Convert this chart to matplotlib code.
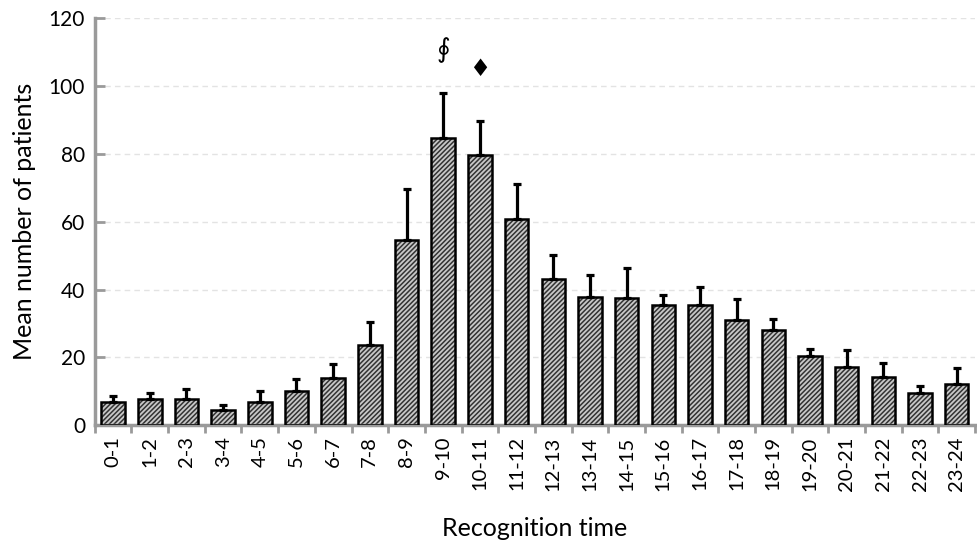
import numpy as np
import matplotlib.pyplot as plt

plt.rcParams['font.family'] = ['Lato', 'DejaVu Sans']
plt.rcParams['hatch.linewidth'] = 1.1

hours = ['0-1', '1-2', '2-3', '3-4', '4-5', '5-6', '6-7', '7-8', '8-9', '9-10',
         '10-11', '11-12', '12-13', '13-14', '14-15', '15-16', '16-17', '17-18',
         '18-19', '19-20', '20-21', '21-22', '22-23', '23-24']
means = [6.9, 7.6, 7.6, 4.4, 6.9, 10.1, 13.8, 23.6, 54.6, 84.8, 79.7, 60.7,
         43.2, 37.7, 37.4, 35.6, 35.5, 31.1, 28.1, 20.4, 17.2, 14.3, 9.5, 12.2]
upper = [8.7, 9.5, 10.6, 5.9, 10.1, 13.7, 18.0, 30.5, 69.8, 98.1, 89.6, 71.2,
         50.3, 44.3, 46.5, 38.5, 40.9, 37.2, 31.3, 22.5, 22.2, 18.4, 11.6, 16.9]
sd = np.array(upper) - np.array(means)

# significance marks
marks = ['\u222E', '\u2666']
mark_pos = [9, 10]
mark_y = [110.6, 105]

x = np.arange(len(hours))
axis_grey = '#9a9a9a'

fig = plt.figure(figsize=(9.77, 5.41), dpi=100)
ax = fig.add_axes([0.097, 0.214, 0.901, 0.752])

ax.bar(x, means, width=0.64, color='#c8c8c8', edgecolor='#333333', hatch='///////',
       linewidth=0, zorder=2)
ax.bar(x, means, width=0.64, fill=False, edgecolor='black', linewidth=1.8, zorder=3)
ax.errorbar(x, means, yerr=[np.zeros(len(sd)), sd], fmt='none', ecolor='black',
            elinewidth=2.3, capsize=3.2, capthick=2.3, zorder=4)

ax.text(mark_pos[0], mark_y[0], marks[0], ha='center', va='center', fontsize=19,
        family=['DejaVu Sans', 'Noto Sans CJK JP'])
ax.text(mark_pos[1], mark_y[1], marks[1], ha='center', va='center', fontsize=17,
        family=['DejaVu Sans'])

ax.set_xlim(-0.5, len(hours) - 0.5)
ax.set_ylim(0, 120)
ax.set_yticks(np.arange(0, 121, 20))
ax.yaxis.grid(True, color='#e3e3e3', linestyle=(0, (4, 3)), linewidth=1)
ax.set_axisbelow(True)

ax.set_xticks(x)
ax.set_xticklabels(hours, rotation=90, fontsize=14.5)
ax.tick_params(axis='x', length=0, pad=8)
ax.set_xticks(np.arange(-0.5, len(hours), 1), minor=True)
ax.tick_params(axis='x', which='minor', length=6, width=2, color=axis_grey)
ax.tick_params(axis='y', direction='in', length=7, width=2, color=axis_grey,
               labelsize=15, pad=7)

for s in ['top', 'right']:
    ax.spines[s].set_visible(False)
for s in ['left', 'bottom']:
    ax.spines[s].set_color(axis_grey)
    ax.spines[s].set_linewidth(2.5)

ax.set_ylabel('Mean number of patients', fontsize=18, labelpad=9)
ax.set_xlabel('Recognition time', fontsize=18, labelpad=19)

fig.savefig('out.png', dpi=100)
